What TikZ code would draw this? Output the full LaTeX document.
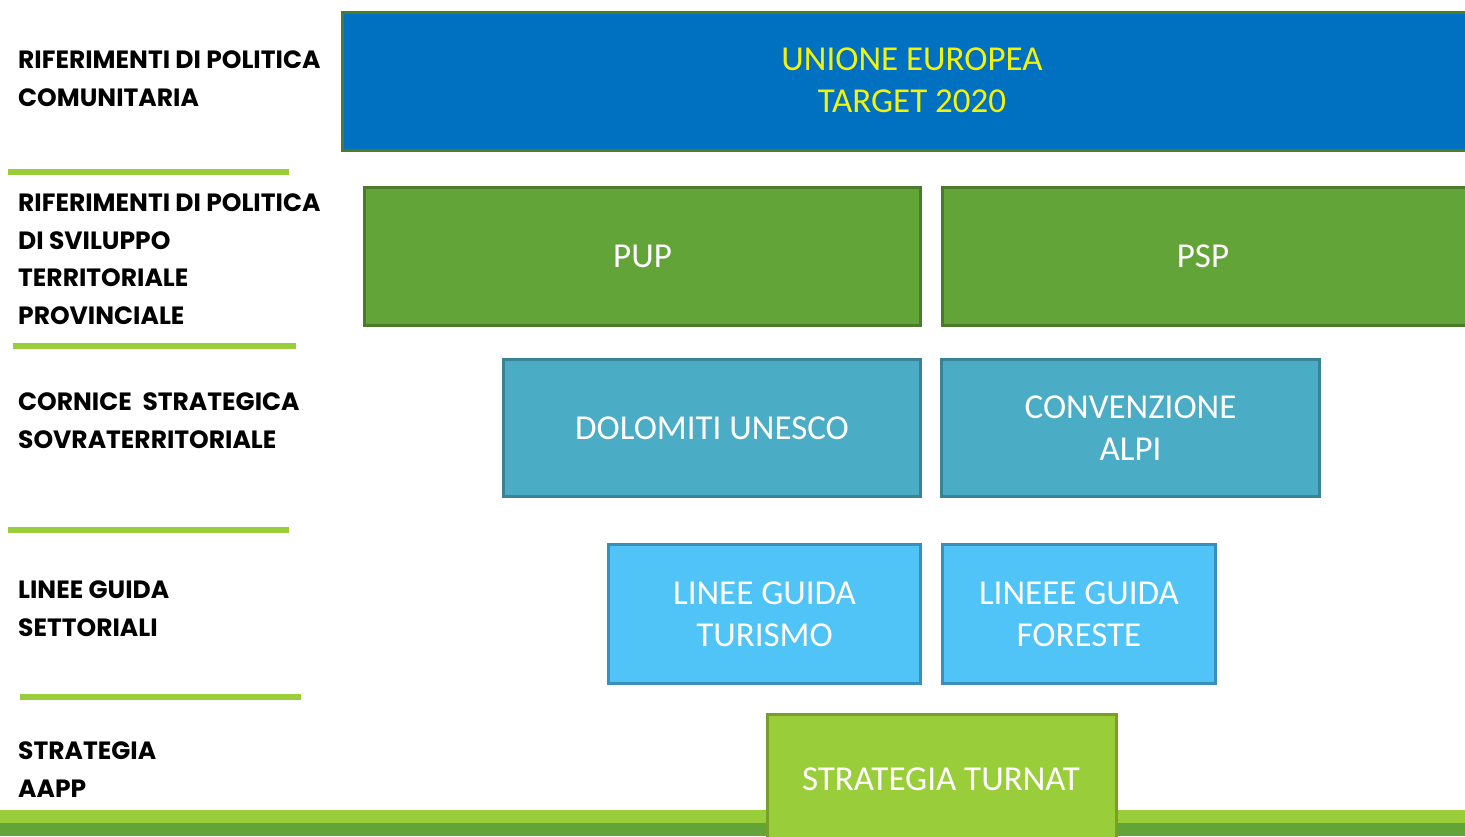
\documentclass[tikz,border=0pt]{standalone}
\usepackage{fontspec}
\setmainfont{Carlito}
\newfontfamily\labfont{Poppins}
\definecolor{eublue}{HTML}{0070C0}
\definecolor{euborder}{HTML}{4E7A2A}
\definecolor{midgreen}{HTML}{62A438}
\definecolor{midborder}{HTML}{4A7A2A}
\definecolor{tealfill}{HTML}{4BACC6}
\definecolor{tealborder}{HTML}{3A8298}
\definecolor{skyfill}{HTML}{50C3F7}
\definecolor{skyborder}{HTML}{3A8EBA}
\definecolor{limefill}{HTML}{9ACD3A}
\definecolor{limeborder}{HTML}{779F2A}
\definecolor{txtyellow}{HTML}{F2F20A}
\tikzset{
  box/.style={rectangle, line width=3pt, anchor=north west, inner sep=0pt, outer sep=0pt},
  boxtext/.style={text=white, align=center, font=\fontsize{35}{42}\selectfont},
  lab/.style={anchor=west, inner sep=0pt, align=left, text=black,
    font=\labfont\bfseries\fontsize{25}{37.5}\selectfont},
  sep/.style={draw=limefill, line width=6pt},
}
\begin{document}
\begin{tikzpicture}[x=1pt,y=-1pt]
\useasboundingbox (0,0) rectangle (1465,836);
% bottom strip
\fill[limefill] (0,810) rectangle (1465,823);
\fill[midgreen] (0,823) rectangle (1465,836);
% boxes
\node[box, fill=eublue, draw=euborder, minimum width=1130pt, minimum height=138pt] (eu) at (342.5,12.5) {};
\node[box, fill=midgreen, draw=midborder, minimum width=556pt, minimum height=138pt] (pup) at (364.5,187.5) {};
\node[box, fill=midgreen, draw=midborder, minimum width=530pt, minimum height=138pt] (psp) at (942.5,187.5) {};
\node[box, fill=tealfill, draw=tealborder, minimum width=417pt, minimum height=137pt] (dol) at (503.5,359.5) {};
\node[box, fill=tealfill, draw=tealborder, minimum width=378pt, minimum height=137pt] (alp) at (941.5,359.5) {};
\node[box, fill=skyfill, draw=skyborder, minimum width=312pt, minimum height=139pt] (tur) at (608.5,544.5) {};
\node[box, fill=skyfill, draw=skyborder, minimum width=273pt, minimum height=139pt] (for) at (942.5,544.5) {};
\node[box, fill=limefill, draw=limeborder, minimum width=349pt, minimum height=140pt] (tn) at (767.5,714.5) {};
% box texts
\node[boxtext, text=txtyellow] (eut) at (912,80) {UNIONE EUROPEA\\TARGET 2020};
\node[boxtext] (pupt) at (pup.center) {PUP};
\node[boxtext] (pspt) at (1203,256) {PSP};
\node[boxtext] (dolt) at (dol.center) {DOLOMITI UNESCO};
\node[boxtext] (alpt) at (alp.center) {CONVENZIONE\\ALPI};
\node[boxtext] (turt) at (tur.center) {LINEE GUIDA\\TURISMO};
\node[boxtext] (fort) at (for.center) {LINEEE GUIDA\\FORESTE};
\node[boxtext] (tnt) at (941,779) {STRATEGIA TURNAT};
% separators
\draw[sep] (8,172) -- (289,172);
\draw[sep] (13,346) -- (296,346);
\draw[sep] (8,530) -- (289,530);
\draw[sep] (20,697) -- (301,697);
% left labels
\node[lab] (l1) at (18,78.5) {RIFERIMENTI DI POLITICA\\COMUNITARIA};
\node[lab] (l2) at (18,259) {RIFERIMENTI DI POLITICA\\DI SVILUPPO\\TERRITORIALE\\PROVINCIALE};
\node[lab] (l3) at (18,420.5) {CORNICE\ \ STRATEGICA\\SOVRATERRITORIALE};
\node[lab] (l4) at (18,608.5) {LINEE GUIDA\\SETTORIALI};
\node[lab] (l5) at (18,769.5) {STRATEGIA\\AAPP};
\end{tikzpicture}
\end{document}
